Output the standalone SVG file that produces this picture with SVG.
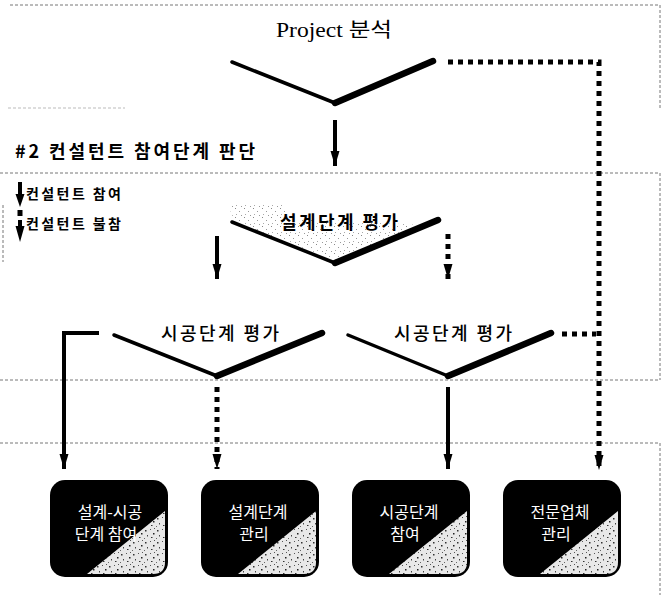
<svg xmlns="http://www.w3.org/2000/svg" width="665" height="595" viewBox="0 0 665 595">
<style>
.frame{fill:none;stroke:#777;stroke-width:1;stroke-dasharray:3 2}
.v1{fill:none;stroke:#000;stroke-width:3.5;stroke-linecap:round}
.v2{fill:none;stroke:#000;stroke-width:6.5;stroke-linecap:round}
.solid{fill:none;stroke:#000;stroke-width:4;marker-end:url(#ah)}
.dot{fill:none;stroke:#000;stroke-width:5;stroke-dasharray:5 5}
.dota{fill:none;stroke:#000;stroke-width:5;stroke-dasharray:5 5;marker-end:url(#ah)}
.t{font-family:"Noto Sans CJK KR","Liberation Sans",sans-serif;fill:#000}
.ts{font-family:"Liberation Serif","Noto Sans CJK KR",serif;fill:#000}
.bt{font-family:"Noto Sans CJK KR",sans-serif;fill:#fff;font-size:16px;text-anchor:middle}
.box{fill:#000}
.lt{fill:url(#speck)}
</style>
<defs>
<marker id="ah" viewBox="0 -5 15 10" refX="15" refY="0" markerWidth="15" markerHeight="10" markerUnits="userSpaceOnUse" orient="auto">
<path d="M0,-4.5 L15,0 L0,4.5 z" fill="#000"/>
</marker>
<pattern id="speck" width="12" height="12" patternUnits="userSpaceOnUse">
<rect width="12" height="12" fill="#e8e8e8"/>
<rect x="1" y="2" width="1.5" height="1.5" fill="#333"/>
<rect x="6" y="1" width="1" height="1" fill="#555"/>
<rect x="9" y="5" width="1.5" height="1.5" fill="#222"/>
<rect x="3" y="7" width="1" height="1.5" fill="#444"/>
<rect x="7" y="9" width="1.5" height="1" fill="#333"/>
<rect x="0" y="10" width="1" height="1" fill="#666"/>
<rect x="10" y="0" width="1" height="1" fill="#555"/>
</pattern>
<pattern id="stip" width="9" height="9" patternUnits="userSpaceOnUse">
<rect x="1" y="1" width="1" height="1" fill="#888"/>
<rect x="5" y="4" width="1" height="1" fill="#999"/>
<rect x="2" y="7" width="1" height="1" fill="#aaa"/>
<rect x="7" y="8" width="1" height="1" fill="#999"/>
</pattern>
</defs>
<rect width="665" height="595" fill="#fff"/>

<g id="frames">
<path class="frame" d="M10,5 H660 V110"/>
<path class="frame" d="M8,108 H125" stroke-opacity="0.5"/>
<path class="frame" d="M0,173 H660 V380"/>
<path class="frame" d="M0,380 H660"/>
<path class="frame" d="M0,443 H660 V595"/>
<path class="frame" d="M3,205 V262"/>
</g>

<g id="connectors">
<line class="solid" x1="335" y1="120" x2="335" y2="166"/>
<path class="dota" d="M448,62 H599 V470"/>
<line class="solid" x1="217" y1="236" x2="217" y2="279"/>
<line class="dota" x1="448" y1="234" x2="448" y2="279"/>
<path class="solid" d="M99,333 H64 V469"/>
<line class="dot" x1="562" y1="334" x2="596" y2="334"/>
<line class="dota" x1="217" y1="387" x2="217" y2="469"/>
<line class="solid" x1="448" y1="387" x2="448" y2="469"/>
</g>

<g id="project">
<text class="ts" x="334" y="37" font-size="20" text-anchor="middle" textLength="116" lengthAdjust="spacingAndGlyphs">Project 분석</text>
<line class="v1" x1="232" y1="62" x2="335" y2="103"/>
<line class="v2" x1="335" y1="103" x2="433" y2="61"/>
</g>

<g id="header">
<text class="t" x="15" y="158" font-size="18" font-weight="700" textLength="240" lengthAdjust="spacing">#2 컨설턴트 참여단계 판단</text>
</g>

<g id="legend">
<line x1="20" y1="182" x2="20" y2="196" stroke="#000" stroke-width="4"/>
<path d="M15.5,194 L24.5,194 L20,207 z" fill="#000"/>
<text class="t" x="26" y="199" font-size="14" font-weight="700" textLength="95" lengthAdjust="spacing">컨설턴트 참여</text>
<rect x="17.5" y="210" width="5" height="6" fill="#000"/>
<line x1="20" y1="220" x2="20" y2="228" stroke="#000" stroke-width="4"/>
<path d="M15.5,226 L24.5,226 L20,242 z" fill="#000"/>
<text class="t" x="26" y="229" font-size="14" font-weight="700" textLength="95" lengthAdjust="spacing">컨설턴트 불참</text>
</g>

<g id="design-eval">
<path d="M228,205 L285,205 L285,218 L420,225 L335,260 L235,222 z" fill="url(#stip)"/>
<text class="t" x="339" y="229" font-size="18" font-weight="700" text-anchor="middle" textLength="118" lengthAdjust="spacing">설계단계 평가</text>
<line class="v1" x1="232" y1="222" x2="335" y2="263"/>
<line class="v2" x1="335" y1="263" x2="438" y2="220"/>
</g>

<g id="const-eval-left">
<text class="t" x="220" y="340" font-size="18" font-weight="500" text-anchor="middle" textLength="118" lengthAdjust="spacing">시공단계 평가</text>
<line class="v1" x1="114" y1="335" x2="217" y2="376"/>
<line class="v2" x1="217" y1="376" x2="322" y2="333"/>
</g>

<g id="const-eval-right">
<text class="t" x="453" y="340" font-size="18" font-weight="500" text-anchor="middle" textLength="118" lengthAdjust="spacing">시공단계 평가</text>
<line class="v1" x1="348" y1="335" x2="448" y2="376"/>
<line class="v2" x1="448" y1="376" x2="551" y2="333"/>
</g>

<g id="box1">
<rect class="box" x="50" y="480" width="118" height="97" rx="15"/>
<path class="lt" d="M87,574 L165,511 L165,562 Q165,574 153,574 z"/>
<text class="bt" x="110" y="518">설계-시공</text>
<text class="bt" x="106" y="540">단계 참여</text>
</g>

<g id="box2">
<rect class="box" x="201" y="480" width="118" height="97" rx="15"/>
<path class="lt" d="M238,574 L316,511 L316,562 Q316,574 304,574 z"/>
<text class="bt" x="258" y="518">설계단계</text>
<text class="bt" x="254" y="540">관리</text>
</g>

<g id="box3">
<rect class="box" x="352" y="480" width="118" height="97" rx="15"/>
<path class="lt" d="M389,574 L467,511 L467,562 Q467,574 455,574 z"/>
<text class="bt" x="409" y="518">시공단계</text>
<text class="bt" x="405" y="540">참여</text>
</g>

<g id="box4">
<rect class="box" x="503" y="480" width="118" height="97" rx="15"/>
<path class="lt" d="M540,574 L618,511 L618,562 Q618,574 606,574 z"/>
<text class="bt" x="560" y="518">전문업체</text>
<text class="bt" x="556" y="540">관리</text>
</g>
</svg>
